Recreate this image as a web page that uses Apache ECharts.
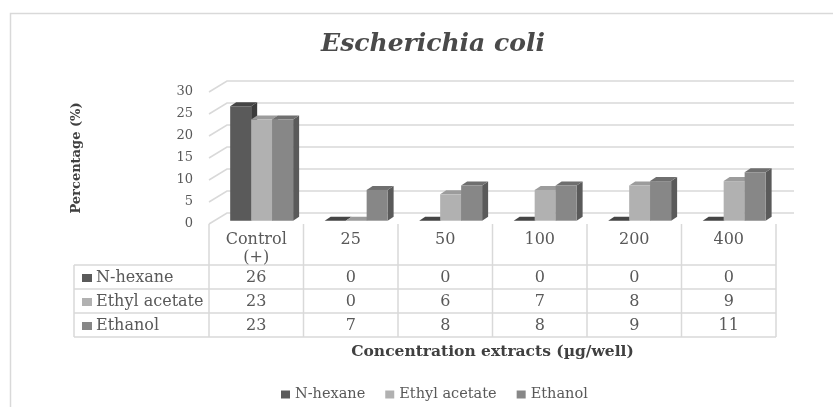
<!DOCTYPE html>
<html><head><meta charset="utf-8">
<script src="https://cdn.jsdelivr.net/npm/echarts/dist/echarts.min.js"></script>
<style>html,body{margin:0;padding:0;background:#fff}#c{width:833px;height:407px}</style>
</head><body><div id="c"></div>
<script>
const categories = ['Control\n(+)', '25', '50', '100', '200', '400'];
const seriesNames = ['N-hexane', 'Ethyl acetate', 'Ethanol'];
const nHexane = [26, 0, 0, 0, 0, 0];
const ethylAcetate = [23, 0, 6, 7, 8, 9];
const ethanol = [23, 7, 8, 8, 9, 11];
const yTicks = [0, 5, 10, 15, 20, 25, 30];

const allValues = [nHexane, ethylAcetate, ethanol];
const FRONT = ['#5a5a5a', '#b1b1b1', '#878787'];
const SIDE = ['#3c3c3c', '#8e8e8e', '#5a5a5a'];
const TOP = ['#454545', '#9c9c9c', '#6f6f6f'];
const FONT = 'DejaVu Serif';
const TXT = '#595959';
const LINE = '#d9d9d9';
const DEPTH_X = 18, DEPTH_Y = -11;

function barRender(si) {
  return function (params, api) {
    const ci = api.value(0), v = api.value(1);
    const base = api.coord([ci, 0]);
    const top = api.coord([ci, v]);
    const band = api.size([1, 0])[0];
    const bw = band * 0.222;
    const sx = DEPTH_X * 0.3, sy = DEPTH_Y * 0.3;
    const x0 = base[0] - 1.5 * bw + si * bw + sx;
    const x1 = x0 + bw;
    const yb = base[1] + sy, yt = top[1] + sy;
    const dx = 6, dy = -4;
    return {
      type: 'group',
      children: [
        { type: 'polygon', shape: { points: [[x1, yt], [x1 + dx, yt + dy], [x1 + dx, yb + dy], [x1, yb]] }, style: { fill: SIDE[si] } },
        { type: 'polygon', shape: { points: [[x0, yt], [x0 + dx, yt + dy], [x1 + dx, yt + dy], [x1, yt]] }, style: { fill: TOP[si] } },
        { type: 'rect', shape: { x: x0, y: yt, width: bw, height: yb - yt }, style: { fill: FRONT[si] } }
      ]
    };
  };
}

function wallRender(params, api) {
  const cs = params.coordSys;
  const y = api.coord([0, api.value(1)])[1];
  return {
    type: 'polyline',
    shape: { points: [[cs.x, y], [cs.x + DEPTH_X, y + DEPTH_Y], [cs.x + cs.width + DEPTH_X, y + DEPTH_Y]] },
    style: { stroke: LINE, lineWidth: 1.5, fill: null }
  };
}

function tableRender(params, api) {
  const cs = params.coordSys;
  const ci = api.value(0);
  const cx = api.coord([ci, 0])[0];
  const band = api.size([1, 0])[0];
  const top = cs.y + cs.height;
  const headH = 41, rowH = 24;
  const rowY = [top + headH, top + headH + rowH, top + headH + 2 * rowH, top + headH + 3 * rowH];
  const children = [];
  const xl = cx - band / 2, xr = cx + band / 2;
  children.push({ type: 'line', shape: { x1: xr, y1: top, x2: xr, y2: rowY[3] }, style: { stroke: LINE, lineWidth: 1.5 } });
  if (ci === 0) {
    const lx = cs.x - 135;
    children.push({ type: 'line', shape: { x1: xl, y1: top, x2: xl, y2: rowY[3] }, style: { stroke: LINE, lineWidth: 1.5 } });
    children.push({ type: 'line', shape: { x1: lx, y1: rowY[0], x2: lx, y2: rowY[3] }, style: { stroke: LINE, lineWidth: 1.5 } });
    for (let r = 0; r < 4; r++) {
      children.push({ type: 'line', shape: { x1: lx, y1: rowY[r], x2: cs.x + cs.width, y2: rowY[r] }, style: { stroke: LINE, lineWidth: 1.5 } });
    }
    for (let s = 0; s < 3; s++) {
      const yc = rowY[s] + rowH / 2 + 1;
      children.push({ type: 'rect', shape: { x: lx + 8, y: yc - 4, width: 10, height: 8 }, style: { fill: FRONT[s] } });
      children.push({ type: 'text', style: { text: seriesNames[s], x: lx + 22, y: yc, align: 'left', verticalAlign: 'middle', fontSize: 16, fontFamily: FONT, fill: TXT } });
    }
  }
  children.push({ type: 'text', style: { text: categories[ci], x: cx, y: top + 7, align: 'center', verticalAlign: 'top', lineHeight: 18, fontSize: 16, fontFamily: FONT, fill: TXT } });
  for (let s = 0; s < 3; s++) {
    children.push({ type: 'text', style: { text: String(allValues[s][ci]), x: cx, y: rowY[s] + rowH / 2 + 1, align: 'center', verticalAlign: 'middle', fontSize: 16, fontFamily: FONT, fill: TXT } });
  }
  return { type: 'group', children };
}

const chart = echarts.init(document.getElementById('c'), null, { renderer: 'canvas' });
const series = [
  {
    type: 'custom', name: '_walls', silent: true, z: 1,
    data: yTicks.map(v => [0, v]), encode: { x: 0, y: 1 }, renderItem: wallRender
  },
  {
    type: 'custom', name: '_table', silent: true, z: 1,
    data: categories.map((c, i) => [i]), encode: { x: 0 }, renderItem: tableRender
  }
];
seriesNames.forEach((n, si) => {
  series.push({
    type: 'custom', name: n, z: 2 + si,
    itemStyle: { color: FRONT[si] },
    data: allValues[si].map((v, i) => [i, v]), encode: { x: 0, y: 1 },
    renderItem: barRender(si)
  });
});

chart.setOption({
  animation: false,
  backgroundColor: '#ffffff',
  graphic: [{
    type: 'rect', shape: { x: 10.5, y: 13.5, width: 840, height: 420 },
    style: { fill: null, stroke: LINE, lineWidth: 1.5 }, silent: true, z: 0
  }],
  title: {
    text: 'Escherichia coli', left: 428, top: 27, textAlign: 'center',
    textStyle: { fontFamily: FONT, fontStyle: 'italic', fontWeight: 'bold', fontSize: 25, color: '#4a4a4a' }
  },
  legend: {
    data: seriesNames, left: 281, top: 387, padding: 0, icon: 'rect', itemWidth: 9, itemHeight: 8, itemGap: 20,
    textStyle: { fontFamily: FONT, fontSize: 14.5, color: TXT }
  },
  grid: { left: 209, top: 92, width: 567, height: 132, containLabel: false },
  xAxis: {
    type: 'category', data: categories,
    axisLine: { show: false }, axisTick: { show: false }, axisLabel: { show: false }, splitLine: { show: false },
    name: 'Concentration extracts (µg/well)', nameLocation: 'middle', nameGap: 120,
    nameTextStyle: { fontFamily: FONT, fontWeight: 'bold', fontSize: 15.5, color: '#404040' }
  },
  yAxis: {
    type: 'value', min: 0, max: 30, interval: 5,
    axisLine: { show: false }, axisTick: { show: false }, splitLine: { show: false },
    axisLabel: { margin: 16, fontFamily: FONT, fontSize: 13, color: TXT },
    name: 'Percentage (%)', nameLocation: 'middle', nameGap: 126, nameRotate: 90,
    nameTextStyle: { fontFamily: FONT, fontWeight: 'bold', fontSize: 13, color: '#404040' }
  },
  series
});
</script></body></html>
